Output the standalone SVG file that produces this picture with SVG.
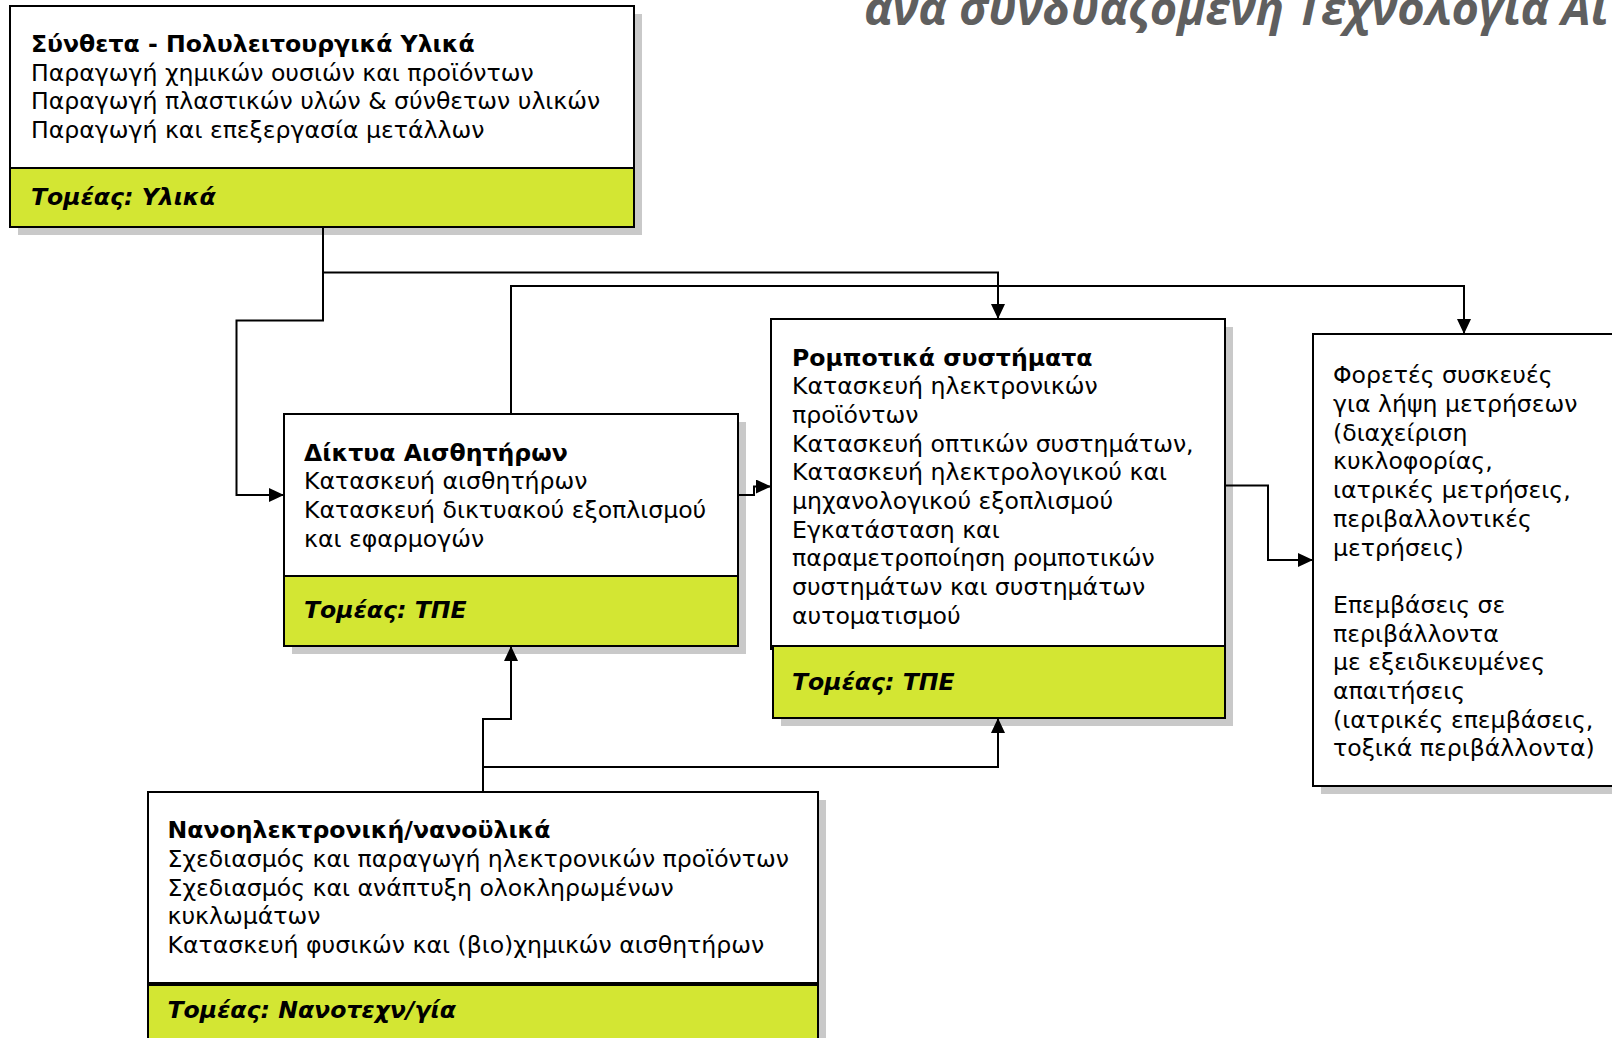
<svg xmlns="http://www.w3.org/2000/svg" width="1612" height="1038" viewBox="0 0 1612 1038">
  <defs>
    <marker id="arrow" markerUnits="userSpaceOnUse" markerWidth="16" markerHeight="14" refX="15" refY="7" orient="auto">
      <path d="M0,0 L15,7 L0,14 z" fill="#000"/>
    </marker>
    <style>
      .shadow { fill: #c9c9c9; }
      .body { fill: #ffffff; stroke: #000; stroke-width: 2; }
      .band { fill: #d3e633; stroke: #000; stroke-width: 2; }
      .txt { font-family: "DejaVu Sans", "Liberation Sans", sans-serif; font-size: 23.6px; fill: #000; }
      .head { font-weight: bold; }
      .sector { font-weight: bold; font-style: italic; }
      .wire { fill: none; stroke: #000; stroke-width: 2; }
      .title { font-family: "Open Sans", "Liberation Sans", sans-serif; font-size: 47px; font-weight: bold; font-style: italic; fill: #5f5f5f; }
    </style>
  </defs>

  <rect width="1612" height="1038" fill="#ffffff"/>

  <!-- heading, partly outside the page -->
  <text class="title" x="864" y="25">ανά συνδυαζόμενη Τεχνολογία Αι</text>

  <!-- Materials -->
  <g id="node-materials">
    <rect class="shadow" x="18" y="14" width="624" height="162"/>
    <rect class="shadow" x="18" y="176" width="624" height="59"/>
    <rect class="body" x="10" y="6" width="624" height="162"/>
    <rect class="band" x="10" y="168" width="624" height="59"/>
    <text class="txt" x="31">
      <tspan class="head" x="31" y="52">Σύνθετα - Πολυλειτουργικά Υλικά</tspan>
      <tspan x="31" y="80.7">Παραγωγή χημικών ουσιών και προϊόντων</tspan>
      <tspan x="31" y="109.4">Παραγωγή πλαστικών υλών &amp; σύνθετων υλικών</tspan>
      <tspan x="31" y="138.1">Παραγωγή και επεξεργασία μετάλλων</tspan>
    </text>
    <text class="txt sector" x="31" y="205">Τομέας: Υλικά</text>
  </g>

  <!-- Sensor networks -->
  <g id="node-sensors">
    <rect class="shadow" x="292" y="422" width="454" height="162"/>
    <rect class="shadow" x="292" y="584" width="454" height="70"/>
    <rect class="body" x="284" y="414" width="454" height="162"/>
    <rect class="band" x="284" y="576" width="454" height="70"/>
    <text class="txt">
      <tspan class="head" x="304" y="460.7">Δίκτυα Αισθητήρων</tspan>
      <tspan x="304" y="489.4">Κατασκευή αισθητήρων</tspan>
      <tspan x="304" y="518.1">Κατασκευή δικτυακού εξοπλισμού</tspan>
      <tspan x="304" y="546.8">και εφαρμογών</tspan>
    </text>
    <text class="txt sector" x="304" y="618">Τομέας: ΤΠΕ</text>
  </g>

  <!-- Robotic systems -->
  <g id="node-robotics">
    <rect class="shadow" x="779" y="327" width="454" height="327"/>
    <rect class="shadow" x="781" y="654" width="452" height="72"/>
    <rect class="body" x="771" y="319" width="454" height="330"/>
    <rect class="band" x="773" y="646" width="452" height="72"/>
    <text class="txt">
      <tspan class="head" x="792" y="365.5">Ρομποτικά συστήματα</tspan>
      <tspan x="792" y="394.2">Κατασκευή ηλεκτρονικών</tspan>
      <tspan x="792" y="422.9">προϊόντων</tspan>
      <tspan x="792" y="451.6">Κατασκευή οπτικών συστημάτων,</tspan>
      <tspan x="792" y="480.3">Κατασκευή ηλεκτρολογικού και</tspan>
      <tspan x="792" y="509">μηχανολογικού εξοπλισμού</tspan>
      <tspan x="792" y="537.7">Εγκατάσταση και</tspan>
      <tspan x="792" y="566.4">παραμετροποίηση ρομποτικών</tspan>
      <tspan x="792" y="595.1">συστημάτων και συστημάτων</tspan>
      <tspan x="792" y="623.8">αυτοματισμού</tspan>
    </text>
    <text class="txt sector" x="792" y="690">Τομέας: ΤΠΕ</text>
  </g>

  <!-- Applications -->
  <g id="node-applications">
    <rect class="shadow" x="1321" y="342" width="320" height="452"/>
    <rect class="body" x="1313" y="334" width="320" height="452"/>
    <text class="txt">
      <tspan x="1333" y="383.3">Φορετές συσκευές</tspan>
      <tspan x="1333" y="412">για λήψη μετρήσεων</tspan>
      <tspan x="1333" y="440.7">(διαχείριση</tspan>
      <tspan x="1333" y="469.4">κυκλοφορίας,</tspan>
      <tspan x="1333" y="498.1">ιατρικές μετρήσεις,</tspan>
      <tspan x="1333" y="526.8">περιβαλλοντικές</tspan>
      <tspan x="1333" y="555.5">μετρήσεις)</tspan>
      <tspan x="1333" y="612.9">Επεμβάσεις σε</tspan>
      <tspan x="1333" y="641.6">περιβάλλοντα</tspan>
      <tspan x="1333" y="670.3">με εξειδικευμένες</tspan>
      <tspan x="1333" y="699">απαιτήσεις</tspan>
      <tspan x="1333" y="727.7">(ιατρικές επεμβάσεις,</tspan>
      <tspan x="1333" y="756.4">τοξικά περιβάλλοντα)</tspan>
    </text>
  </g>

  <!-- Nanoelectronics -->
  <g id="node-nano">
    <rect class="shadow" x="156" y="800" width="670" height="260"/>
    <rect class="body" x="148" y="792" width="670" height="192"/>
    <rect class="band" x="148" y="984" width="670" height="70"/>
    <line x1="148" y1="984" x2="818" y2="984" stroke="#000" stroke-width="4"/>
    <text class="txt">
      <tspan class="head" x="167.5" y="838.3">Νανοηλεκτρονική/νανοϋλικά</tspan>
      <tspan x="167.5" y="867">Σχεδιασμός και παραγωγή ηλεκτρονικών προϊόντων</tspan>
      <tspan x="167.5" y="895.7">Σχεδιασμός και ανάπτυξη ολοκληρωμένων</tspan>
      <tspan x="167.5" y="924.4">κυκλωμάτων</tspan>
      <tspan x="167.5" y="953.1">Κατασκευή φυσικών και (βιο)χημικών αισθητήρων</tspan>
    </text>
    <text class="txt sector" x="167.5" y="1018">Τομέας: Νανοτεχν/γία</text>
  </g>

  <!-- connectors -->
  <g id="connectors">
    <path class="wire" d="M323,227 V272.5 H998 V319" marker-end="url(#arrow)"/>
    <path class="wire" d="M323,272.5 V320.5 H236.5 V495 H284" marker-end="url(#arrow)"/>
    <path class="wire" d="M511,414 V286 H1464 V334" marker-end="url(#arrow)"/>
    <path class="wire" d="M738,495 H754 V486.5 H771" marker-end="url(#arrow)"/>
    <path class="wire" d="M1225,485.5 H1268 V560 H1313" marker-end="url(#arrow)"/>
    <path class="wire" d="M483,792 V719 H511 V646" marker-end="url(#arrow)"/>
    <path class="wire" d="M483,767 H998 V718" marker-end="url(#arrow)"/>
  </g>
</svg>
